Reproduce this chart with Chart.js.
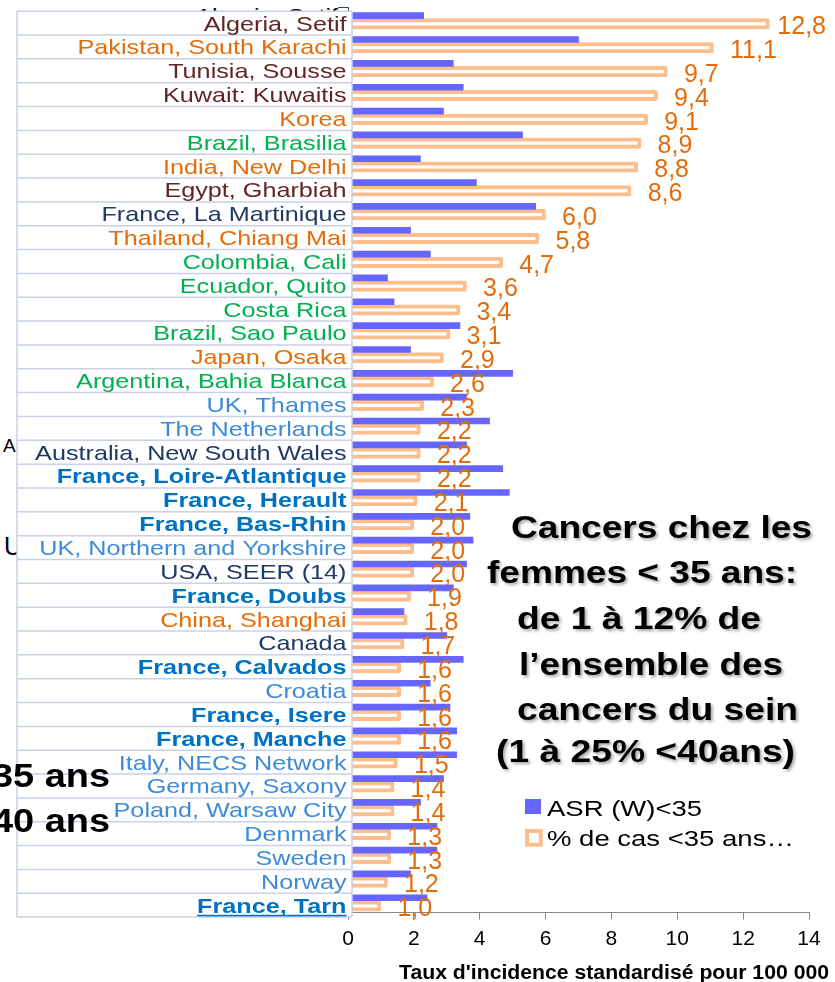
<!DOCTYPE html>
<html>
<head>
<meta charset="utf-8">
<script src="https://cdn.jsdelivr.net/npm/chart.js@4.4.1/dist/chart.umd.min.js"></script>
<style>
html,body{margin:0;padding:0;background:#fff;}
#wrap{position:relative;width:835px;height:982px;overflow:hidden;}
#bg,#fg{position:absolute;left:0;top:0;}
#bg{z-index:0;}
#c{position:absolute;left:0;top:0;z-index:1;}
#fg{z-index:2;pointer-events:none;}
text{font-family:"Liberation Sans",Arial,Helvetica,sans-serif;}
</style>
</head>
<body>
<div id="wrap">
<svg id="bg" width="835" height="982">
  <text transform="translate(338,23.2) scale(1.2,1)" text-anchor="end" font-size="21" fill="#000">Algeria, Setif</text>
  <path d="M338 7.5 H348.5 V12" stroke="#444" stroke-width="1" fill="none"/>
  <text x="3" y="452" font-size="19" fill="#000">A</text>
  <text x="4" y="555" font-size="25" fill="#000">U</text>
</svg>
<canvas id="c" width="835" height="982"></canvas>
<svg id="fg" width="835" height="982">
  <defs>
    <filter id="sh" x="-5%" y="-20%" width="110%" height="150%">
      <feDropShadow dx="2" dy="2" stdDeviation="1.5" flood-color="#000" flood-opacity="0.35"/>
    </filter>
  </defs>
  <text transform="translate(110,787) scale(1.15,1)" text-anchor="end" font-size="33" font-weight="bold" fill="#000">35 ans</text>
  <text transform="translate(110,832) scale(1.15,1)" text-anchor="end" font-size="33" font-weight="bold" fill="#000">40 ans</text>
  <g filter="url(#sh)" font-size="31.5" font-weight="bold" fill="#000">
    <text x="511" y="538" textLength="301" lengthAdjust="spacingAndGlyphs">Cancers chez les</text>
    <text x="487" y="583" textLength="310" lengthAdjust="spacingAndGlyphs">femmes &lt; 35 ans:</text>
    <text x="517" y="629" textLength="244" lengthAdjust="spacingAndGlyphs">de 1 à 12% de</text>
    <text x="519" y="675" textLength="264" lengthAdjust="spacingAndGlyphs">l’ensemble des</text>
    <text x="517" y="720" textLength="281" lengthAdjust="spacingAndGlyphs">cancers du sein</text>
    <text x="496" y="762" textLength="299" lengthAdjust="spacingAndGlyphs">(1 à 25% &lt;40ans)</text>
  </g>
</svg>
</div>
<script>
// ---------- DATA ----------
const categories = [
  "Algeria, Setif", "Pakistan, South Karachi", "Tunisia, Sousse", "Kuwait: Kuwaitis",
  "Korea", "Brazil, Brasilia", "India, New Delhi", "Egypt, Gharbiah",
  "France, La Martinique", "Thailand, Chiang Mai", "Colombia, Cali", "Ecuador, Quito",
  "Costa Rica", "Brazil, Sao Paulo", "Japan, Osaka", "Argentina, Bahia Blanca",
  "UK, Thames", "The Netherlands", "Australia, New South Wales", "France, Loire-Atlantique",
  "France, Herault", "France, Bas-Rhin", "UK, Northern and Yorkshire", "USA, SEER (14)",
  "France, Doubs", "China, Shanghai", "Canada", "France, Calvados",
  "Croatia", "France, Isere", "France, Manche", "Italy, NECS Network",
  "Germany, Saxony", "Poland, Warsaw City", "Denmark", "Sweden",
  "Norway", "France, Tarn"
];
const regions = [
  "africa", "asia", "africa", "africa",
  "asia", "southAmerica", "asia", "africa",
  "americasOceania", "asia", "southAmerica", "southAmerica",
  "southAmerica", "southAmerica", "asia", "southAmerica",
  "europe", "europe", "americasOceania", "france",
  "france", "france", "europe", "americasOceania",
  "france", "asia", "americasOceania", "france",
  "europe", "france", "france", "europe",
  "europe", "europe", "europe", "europe",
  "europe", "france"
];
// ASR (W) < 35 ans
const asr = [
  2.3, 7.0, 3.2, 3.5,
  2.9, 5.3, 2.2, 3.9,
  5.7, 1.9, 2.5, 1.2,
  1.4, 3.4, 1.9, 5.0,
  3.6, 4.3, 3.6, 4.7,
  4.9, 3.7, 3.8, 3.6,
  3.2, 1.7, 3.0, 3.5,
  2.5, 3.1, 3.3, 3.3,
  2.9, 2.2, 2.7, 2.7,
  1.9, 2.4
];
// % de cas < 35 ans
const pct = [
  12.8, 11.1, 9.7, 9.4,
  9.1, 8.9, 8.8, 8.6,
  6.0, 5.8, 4.7, 3.6,
  3.4, 3.1, 2.9, 2.6,
  2.3, 2.2, 2.2, 2.2,
  2.1, 2.0, 2.0, 2.0,
  1.9, 1.8, 1.7, 1.6,
  1.6, 1.6, 1.6, 1.5,
  1.4, 1.4, 1.3, 1.3,
  1.2, 1.0
];
const seriesNames = ["ASR (W)<35", "% de cas <35 ans…"];
const xTickValues = [0, 2, 4, 6, 8, 10, 12, 14];
const xAxisTitle = "Taux d'incidence standardisé pour 100 000";
const underlinedCategory = "France, Tarn";

// ---------- STYLES ----------
const FONT = '"Liberation Sans", Arial, Helvetica, sans-serif';
const regionColors = {
  africa: "#632523",
  asia: "#E46C0A",
  southAmerica: "#00B050",
  americasOceania: "#1F3864",
  europe: "#3D8BD6",
  france: "#0070C0"
};
const blueColor = "#6666FF";
const orangeBorder = "#FBBE8C";
const labelOrange = "#E46C0A";

Chart.defaults.font.family = FONT;

const tablePlugin = {
  id: "labelTable",
  afterDatasetsDraw(chart) {
    const ctx = chart.ctx;
    const ys = chart.scales.y;
    const xs = chart.scales.x;
    const n = categories.length;
    const step = ys.getPixelForValue(1) - ys.getPixelForValue(0);
    const shift = 4.4;
    const left = 17, right = xs.left + 4;
    const top = ys.getPixelForValue(0) - step / 2 + shift;
    const bottom = ys.getPixelForValue(n - 1) + step / 2 + shift;
    ctx.save();
    ctx.fillStyle = "#fff";
    ctx.fillRect(left, top, right - left, bottom - top);
    ctx.strokeStyle = "#C9D1E5";
    ctx.lineWidth = 1.5;
    ctx.beginPath();
    for (let i = 0; i <= n; i++) {
      const y = top + i * step;
      ctx.moveTo(left, y); ctx.lineTo(right, y);
    }
    ctx.moveTo(left, top); ctx.lineTo(left, bottom);
    ctx.moveTo(right, top); ctx.lineTo(right, bottom);
    ctx.stroke();
    categories.forEach((name, i) => {
      const c = ys.getPixelForValue(i) + shift;
      const bold = regions[i] === "france";
      ctx.save();
      ctx.font = (bold ? "bold " : "") + "21px " + FONT;
      ctx.fillStyle = regionColors[regions[i]];
      ctx.translate(right - 5.5, c + 7.4);
      ctx.scale(1.2, 1);
      ctx.textAlign = "right";
      ctx.textBaseline = "alphabetic";
      ctx.fillText(name, 0, 0);
      if (name === underlinedCategory) {
        const w = ctx.measureText(name).width;
        ctx.fillRect(-w, 2.2, w, 1.6);
      }
      ctx.restore();
    });
    // value labels of the % series
    const meta = chart.getDatasetMeta(1);
    ctx.font = "25px " + FONT;
    ctx.fillStyle = labelOrange;
    ctx.textAlign = "left";
    ctx.textBaseline = "alphabetic";
    meta.data.forEach((bar, i) => {
      const txt = pct[i].toFixed(1).replace(".", ",");
      const w = ctx.measureText(txt).width;
      let x = xs.getPixelForValue(pct[i]) + 16.5;
      x = Math.min(x, chart.width - 9 - w);
      ctx.fillText(txt, x, bar.y + 10.2);
    });
    ctx.restore();
  },
  afterDraw(chart) {
    const ctx = chart.ctx;
    const xs = chart.scales.x;
    ctx.save();
    // axis title
    ctx.font = "bold 20px " + FONT;
    ctx.fillStyle = "#000";
    ctx.textAlign = "right";
    ctx.textBaseline = "alphabetic";
    ctx.translate(xs.right + 20, xs.bottom - 3);
    ctx.scale(1.06, 1);
    ctx.fillText(xAxisTitle, 0, 0);
    ctx.restore();
    // legend
    const ds = chart.data.datasets;
    ctx.save();
    ctx.fillStyle = ds[0].backgroundColor;
    ctx.fillRect(525, 799, 16, 15);
    ctx.strokeStyle = ds[1].borderColor;
    ctx.lineWidth = 4;
    ctx.fillStyle = "#fff";
    ctx.fillRect(527, 831, 13.7, 13.7);
    ctx.strokeRect(527, 831, 13.7, 13.7);
    ctx.font = "22px " + FONT;
    ctx.fillStyle = "#000";
    ctx.textAlign = "left";
    ctx.textBaseline = "alphabetic";
    [[ds[0].label, 816], [ds[1].label, 846]].forEach(([t, y]) => {
      ctx.save();
      ctx.translate(547, y);
      ctx.scale(1.25, 1);
      ctx.fillText(t, 0, 0);
      ctx.restore();
    });
    ctx.restore();
  }
};

new Chart(document.getElementById("c"), {
  type: "bar",
  data: {
    labels: categories,
    datasets: [
      {
        label: seriesNames[0],
        data: asr,
        backgroundColor: blueColor,
        borderWidth: 0,
        barThickness: 6
      },
      {
        label: seriesNames[1],
        data: pct,
        backgroundColor: "#FFFFFF",
        borderColor: orangeBorder,
        borderWidth: 4,
        borderSkipped: false,
        borderRadius: 2,
        barThickness: 10.5
      }
    ]
  },
  options: {
    indexAxis: "y",
    responsive: false,
    animation: false,
    devicePixelRatio: 1,
    layout: { padding: { left: 348, right: 26, top: 6.78, bottom: 0 } },
    scales: {
      y: { display: false, offset: true },
      x: {
        min: xTickValues[0],
        max: xTickValues[xTickValues.length - 1],
        afterBuildTicks(scale) { scale.ticks = xTickValues.map(v => ({ value: v })); },
        ticks: { font: { size: 21, family: FONT }, color: "#000", padding: 7 },
        grid: { drawOnChartArea: false, drawTicks: true, tickLength: 7, color: "#868686" },
        border: { display: true, color: "#868686", width: 1 },
        afterFit(scale) { scale.height = 69.3; }
      }
    },
    plugins: { legend: { display: false }, tooltip: { enabled: false } }
  },
  plugins: [tablePlugin]
});
</script>
</body>
</html>
